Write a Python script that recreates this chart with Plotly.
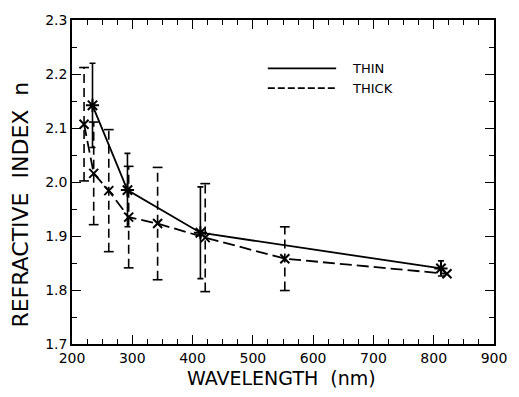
import plotly.graph_objects as go

# Data
thin_wl = [234, 292, 413, 812]
thin_n = [2.142, 1.985, 1.906, 1.840]
thin_err = [0.078, 0.068, 0.085, 0.014]

thick_wl = [220, 236, 261, 294, 342, 421, 553, 822]
thick_n = [2.107, 2.016, 1.984, 1.935, 1.923, 1.897, 1.858, 1.830]
thick_err = [0.105, 0.095, 0.113, 0.094, 0.104, 0.100, 0.059, 0.0]

x_ticks = [200, 300, 400, 500, 600, 700, 800, 900]
y_ticks = [1.7, 1.8, 1.9, 2.0, 2.1, 2.2, 2.3]

FONT = "DejaVu Sans"
LW = 1.8

fig = go.Figure()

# Thick error bars (dashed) built from data arrays
ex, ey = [], []
cx, cy = [], []
for x, y, e in zip(thick_wl, thick_n, thick_err):
    if e <= 0:
        continue
    ex += [x, x, None]
    ey += [y - e, y + e, None]
    cx += [x, x]
    cy += [y - e, y + e]
fig.add_trace(go.Scatter(x=ex, y=ey, mode="lines",
                         line=dict(color="black", width=1.6, dash="9px,5px"),
                         showlegend=False, hoverinfo="skip"))
fig.add_trace(go.Scatter(x=cx, y=cy, mode="markers",
                         marker=dict(symbol="line-ew-open", size=7, color="black",
                                     line=dict(color="black", width=1.6)),
                         showlegend=False, hoverinfo="skip"))

# Thin series with solid error bars
fig.add_trace(go.Scatter(
    x=thin_wl, y=thin_n, mode="lines+markers", name="THIN",
    line=dict(color="black", width=LW),
    marker=dict(symbol="asterisk-open", size=11, color="black",
                line=dict(color="black", width=2)),
    error_y=dict(type="data", array=thin_err, visible=True,
                 color="black", thickness=1.6, width=3),
    showlegend=False))

# Thick series
fig.add_trace(go.Scatter(
    x=thick_wl, y=thick_n, mode="lines+markers", name="THICK",
    line=dict(color="black", width=LW, dash="12px,5px"),
    marker=dict(symbol="x-thin-open", size=9, color="black",
                line=dict(color="black", width=2)),
    showlegend=False))

# Legend drawn manually
fig.add_shape(type="line", xref="paper", yref="paper",
              x0=0.464, x1=0.626, y0=0.851, y1=0.851,
              line=dict(color="black", width=1.8))
fig.add_shape(type="line", xref="paper", yref="paper",
              x0=0.464, x1=0.626, y0=0.790, y1=0.790,
              line=dict(color="black", width=1.8, dash="7px,3px"))
fig.add_annotation(xref="paper", yref="paper", x=0.659, y=0.851,
                   text="THIN", showarrow=False, xanchor="left", yanchor="middle",
                   font=dict(family=FONT, size=13, color="black"))
fig.add_annotation(xref="paper", yref="paper", x=0.659, y=0.790,
                   text="THICK", showarrow=False, xanchor="left", yanchor="middle",
                   font=dict(family=FONT, size=13, color="black"))

# Axis titles
fig.add_annotation(xref="paper", yref="paper", x=0.496, y=-0.105,
                   text="WAVELENGTH&nbsp;&nbsp;(nm)", showarrow=False,
                   xanchor="center", yanchor="middle",
                   font=dict(family=FONT, size=19, color="black"))
fig.add_annotation(xref="paper", yref="paper", x=-0.121, y=0.43,
                   text="REFRACTIVE&nbsp;&nbsp;INDEX&nbsp;&nbsp;n", showarrow=False,
                   textangle=-90, xanchor="center", yanchor="middle",
                   font=dict(family=FONT, size=22, color="black"))

axis_common = dict(showline=True, linecolor="black", linewidth=1.5,
                   mirror="ticks", ticks="inside", tickcolor="black",
                   tickwidth=1.4, ticklen=9, showgrid=False, zeroline=False,
                   tickfont=dict(family=FONT, size=14, color="black"))

fig.update_xaxes(range=[200, 900], tickvals=x_ticks,
                 ticktext=[str(v) for v in x_ticks],
                 minor=dict(dtick=25, ticks="inside", ticklen=5,
                            tickcolor="black", tickwidth=1.2, showgrid=False),
                 **axis_common)
fig.update_yaxes(range=[1.7, 2.3], tickvals=y_ticks,
                 ticktext=[f"{v:.1f}" for v in y_ticks],
                 minor=dict(dtick=0.05, ticks="inside", ticklen=5,
                            tickcolor="black", tickwidth=1.2, showgrid=False),
                 **axis_common)

fig.update_layout(width=519, height=397,
                  margin=dict(l=72, r=16, t=15, b=53),
                  paper_bgcolor="white", plot_bgcolor="white",
                  showlegend=False)

fig.write_html("out.html")
